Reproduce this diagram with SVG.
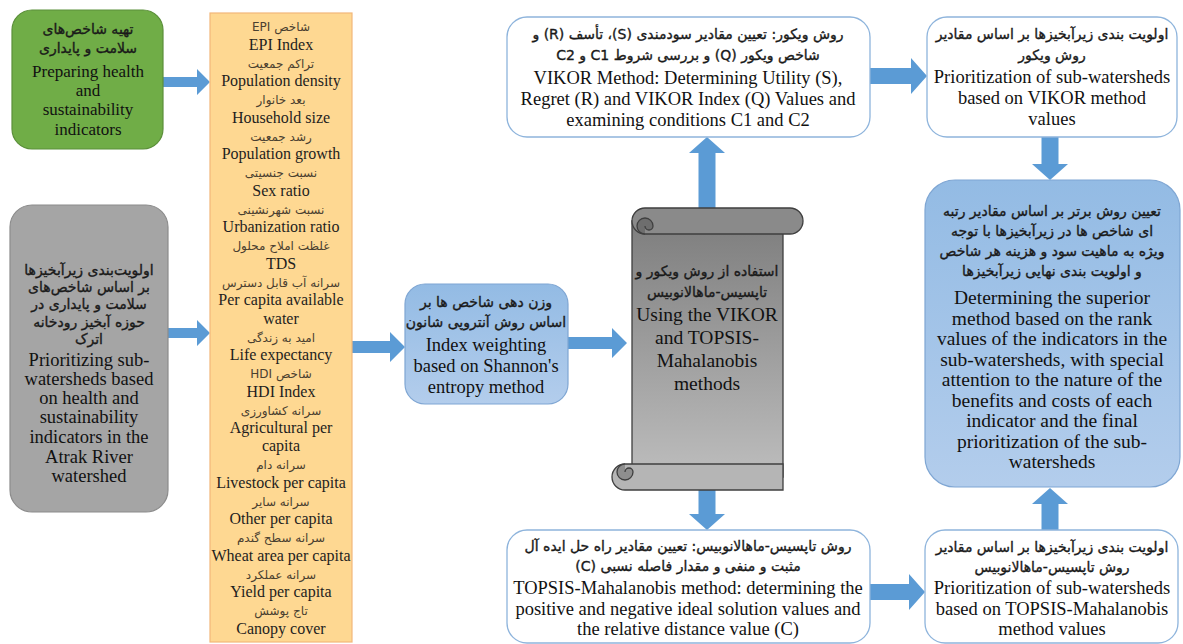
<svg xmlns="http://www.w3.org/2000/svg" width="1183" height="644" viewBox="0 0 1183 644">
<style>
.en{font-family:"Liberation Serif","Times New Roman",serif;fill:#111;text-anchor:middle}
.fa{font-family:"DejaVu Sans","Noto Sans",sans-serif;font-size:14px;fill:#1a1a1a;stroke:#1a1a1a;stroke-width:0.35;text-anchor:middle;direction:rtl}
.yen{font-family:"Liberation Serif",serif;font-size:16px;fill:#1e1e1e;text-anchor:middle}
.yfa{font-family:"DejaVu Sans",sans-serif;font-size:12px;fill:#4a4030;text-anchor:middle;direction:rtl}
.arr{fill:#5b9bd5}
.wbox{fill:#fff;stroke:#8eb4dc;stroke-width:1.3}
</style>
<defs>
<linearGradient id="gBlue" x1="0" y1="0" x2="0" y2="1"><stop offset="0" stop-color="#93bbe4"/><stop offset="1" stop-color="#b3cdec"/></linearGradient>
<linearGradient id="gScroll" x1="0" y1="0" x2="0" y2="1"><stop offset="0" stop-color="#7e7e7e"/><stop offset="1" stop-color="#bdbdbd"/></linearGradient>
</defs>

<g id="connectors">
<polygon class="arr" points="163,77 197,77 197,69 210,82 197,95 197,87 163,87"/>
<polygon class="arr" points="168,328 197,328 197,320 210,333 197,346 197,338 168,338"/>
<polygon class="arr" points="352,341 390,341 390,332 405,347 390,362 390,353 352,353"/>
<polygon class="arr" points="568,337 612,337 612,328 627,343 612,358 612,349 568,349"/>
<polygon class="arr" points="698.5,208 698.5,153 689,153 707,137 725,153 715.5,153 715.5,208"/>
<polygon class="arr" points="698.5,490 698.5,514 689,514 707,530 725,514 715.5,514 715.5,490"/>
<polygon class="arr" points="870,68 911,68 911,58 927,76 911,94 911,84 870,84"/>
<polygon class="arr" points="870,584 909,584 909,574 925,592 909,610 909,600 870,600"/>
<polygon class="arr" points="1041.5,137 1041.5,164 1032,164 1050,180 1068,164 1058.5,164 1058.5,137"/>
<polygon class="arr" points="1041.5,530 1041.5,504 1032,504 1050,488 1068,504 1058.5,504 1058.5,530"/>
</g>

<g id="n-green">
<rect x="12" y="10" width="151" height="139" rx="20" fill="#70ad47" stroke="#5b8f3a" stroke-width="1.2"/>
<text class="fa" x="88" y="34">تهیه شاخص‌های</text>
<text class="fa" x="88" y="53">سلامت و پایداری</text>
<text class="en" x="88" y="77" font-size="17">Preparing health</text>
<text class="en" x="88" y="96" font-size="17">and</text>
<text class="en" x="88" y="115" font-size="17">sustainability</text>
<text class="en" x="88" y="135" font-size="17">indicators</text>
</g>

<g id="n-gray">
<rect x="10" y="205" width="158" height="307" rx="22" fill="#a5a5a5" stroke="#8c8c8c" stroke-width="1.2"/>
<text class="fa" x="89" y="275">اولویت‌بندی زیرآبخیزها</text>
<text class="fa" x="89" y="292">بر اساس شاخص‌های</text>
<text class="fa" x="89" y="309">سلامت و پایداری در</text>
<text class="fa" x="89" y="327">حوزه آبخیز رودخانه</text>
<text class="fa" x="89" y="344">اترک</text>
<text class="en" x="89" y="366" font-size="18.5">Prioritizing  sub-</text>
<text class="en" x="89" y="385" font-size="18.5">watersheds based</text>
<text class="en" x="89" y="404" font-size="18.5">on health  and</text>
<text class="en" x="89" y="423" font-size="18.5">sustainability</text>
<text class="en" x="89" y="443" font-size="18.5">indicators in the</text>
<text class="en" x="89" y="463" font-size="18.5">Atrak River</text>
<text class="en" x="89" y="482" font-size="18.5">watershed</text>
</g>

<g id="n-indicators">
<rect x="210" y="13" width="142" height="629" fill="#fed892" stroke="#f2b77a" stroke-width="1.2"/>
<text class="yfa" x="281" y="31">شاخص EPI</text>
<text class="yen" x="281" y="50">EPI Index</text>
<text class="yfa" x="281" y="68">تراکم جمعیت</text>
<text class="yen" x="281" y="86">Population  density</text>
<text class="yfa" x="281" y="104">بعد خانوار</text>
<text class="yen" x="281" y="123">Household  size</text>
<text class="yfa" x="281" y="141">رشد جمعیت</text>
<text class="yen" x="281" y="159">Population  growth</text>
<text class="yfa" x="281" y="177">نسبت جنسیتی</text>
<text class="yen" x="281" y="196">Sex ratio</text>
<text class="yfa" x="281" y="214">نسبت شهرنشینی</text>
<text class="yen" x="281" y="232">Urbanization  ratio</text>
<text class="yfa" x="281" y="250">غلظت املاح محلول</text>
<text class="yen" x="281" y="269">TDS</text>
<text class="yfa" x="281" y="287">سرانه آب قابل دسترس</text>
<text class="yen" x="281" y="305">Per capita  available</text>
<text class="yen" x="281" y="324">water</text>
<text class="yfa" x="281" y="342">امید به زندگی</text>
<text class="yen" x="281" y="360">Life  expectancy</text>
<text class="yfa" x="281" y="378">شاخص HDI</text>
<text class="yen" x="281" y="397">HDI Index</text>
<text class="yfa" x="281" y="415">سرانه کشاورزی</text>
<text class="yen" x="281" y="433">Agricultural  per</text>
<text class="yen" x="281" y="451">capita</text>
<text class="yfa" x="281" y="469">سرانه دام</text>
<text class="yen" x="281" y="488">Livestock  per capita</text>
<text class="yfa" x="281" y="506">سرانه سایر</text>
<text class="yen" x="281" y="524">Other per capita</text>
<text class="yfa" x="281" y="542">سرانه سطح گندم</text>
<text class="yen" x="281" y="561">Wheat area per capita</text>
<text class="yfa" x="281" y="579">سرانه عملکرد</text>
<text class="yen" x="281" y="597">Yield  per capita</text>
<text class="yfa" x="281" y="615">تاج پوشش</text>
<text class="yen" x="281" y="634">Canopy  cover</text>
</g>

<g id="n-shannon">
<rect x="405" y="284" width="163" height="120" rx="20" fill="url(#gBlue)" stroke="#7fa6d3" stroke-width="1.2"/>
<text class="fa" x="486" y="307">وزن دهی شاخص ها بر</text>
<text class="fa" x="486" y="327">اساس روش آنتروپی شانون</text>
<text class="en" x="486" y="351" font-size="18.5">Index weighting</text>
<text class="en" x="486" y="372" font-size="18.5">based on Shannon's</text>
<text class="en" x="486" y="393" font-size="18.5">entropy method</text>
</g>

<g id="n-scroll">
<path d="M632,221 L632,477 L783,477 L783,221 Z" fill="url(#gScroll)" stroke="#3f3f3f" stroke-width="1.3"/>
<path d="M645,208 L790,208 A13,13 0 0 1 790,234 L645,234 A13,13 0 0 1 645,208 Z" fill="#8a8a8a" stroke="#3f3f3f" stroke-width="1.3"/>
<path d="M645,234 A8,8 0 1 1 653,226 A4,4 0 0 1 645,226" fill="#6e6e6e" stroke="#3f3f3f" stroke-width="1.3"/>
<path d="M625,464 L783,464 L783,490 L625,490 A13,13 0 0 1 625,464 Z" fill="#b5b5b5" stroke="#3f3f3f" stroke-width="1.3"/>
<path d="M625,464 A8,8 0 1 0 633,472 A4,4 0 0 0 625,472" fill="#8e8e8e" stroke="#3f3f3f" stroke-width="1.3"/>
<text class="fa" x="707" y="276">استفاده از روش ویکور و</text>
<text class="fa" x="707" y="297">تاپسیس-ماهالانوبیس</text>
<text class="en" x="707" y="321" font-size="19.5">Using the VIKOR</text>
<text class="en" x="707" y="344" font-size="19.5">and TOPSIS-</text>
<text class="en" x="707" y="367" font-size="19.5">Mahalanobis</text>
<text class="en" x="707" y="390" font-size="19.5">methods</text>
</g>

<g id="n-vikor">
<rect class="wbox" x="507" y="17" width="363" height="120" rx="20"/>
<text class="fa" x="688" y="39">روش ویکور: تعیین مقادیر سودمندی (S)، تأسف (R) و</text>
<text class="fa" x="688" y="60">شاخص ویکور (Q) و بررسی شروط C1 و C2</text>
<text class="en" x="688" y="84" font-size="18.5">VIKOR Method: Determining  Utility  (S),</text>
<text class="en" x="688" y="105" font-size="18.5">Regret (R) and VIKOR Index (Q) Values  and</text>
<text class="en" x="688" y="126" font-size="18.5">examining  conditions C1 and C2</text>
</g>

<g id="n-topsis">
<rect class="wbox" x="507" y="530" width="363" height="113" rx="20"/>
<text class="fa" x="688" y="551">روش تاپسیس-ماهالانوبیس: تعیین مقادیر راه حل ایده آل</text>
<text class="fa" x="688" y="571">مثبت و منفی و مقدار فاصله نسبی (C)</text>
<text class="en" x="688" y="594" font-size="18.5">TOPSIS-Mahalanobis method: determining  the</text>
<text class="en" x="688" y="615" font-size="18.5">positive and negative  ideal solution values and</text>
<text class="en" x="688" y="635" font-size="18.5">the relative  distance value  (C)</text>
</g>

<g id="n-rank-vikor">
<rect class="wbox" x="927" y="17" width="250" height="120" rx="20"/>
<text class="fa" x="1052" y="39">اولویت بندی زیرآبخیزها بر اساس مقادیر</text>
<text class="fa" x="1052" y="60">روش ویکور</text>
<text class="en" x="1052" y="83" font-size="18.5">Prioritization  of sub-watersheds</text>
<text class="en" x="1052" y="104" font-size="18.5">based on VIKOR method</text>
<text class="en" x="1052" y="125" font-size="18.5">values</text>
</g>

<g id="n-final">
<rect x="925" y="180" width="255" height="307" rx="30" fill="url(#gBlue)" stroke="#7fa6d3" stroke-width="1.2"/>
<text class="fa" x="1052" y="216">تعیین روش برتر بر اساس مقادیر رتبه</text>
<text class="fa" x="1052" y="236">ای شاخص ها در زیرآبخیزها با توجه</text>
<text class="fa" x="1052" y="256">ویژه به ماهیت سود و هزینه هر شاخص</text>
<text class="fa" x="1052" y="276">و اولویت بندی نهایی زیرآبخیزها</text>
<text class="en" x="1052" y="304" font-size="19.5">Determining  the superior</text>
<text class="en" x="1052" y="324.5" font-size="19.5">method based on the rank</text>
<text class="en" x="1052" y="345" font-size="19.5">values  of the indicators in  the</text>
<text class="en" x="1052" y="365.5" font-size="19.5">sub-watersheds, with  special</text>
<text class="en" x="1052" y="386" font-size="19.5">attention  to the nature of the</text>
<text class="en" x="1052" y="406.5" font-size="19.5">benefits  and costs of each</text>
<text class="en" x="1052" y="427" font-size="19.5">indicator and the final</text>
<text class="en" x="1052" y="447.5" font-size="19.5">prioritization  of the  sub-</text>
<text class="en" x="1052" y="468" font-size="19.5">watersheds</text>
</g>

<g id="n-rank-topsis">
<rect class="wbox" x="925" y="530" width="253" height="113" rx="20"/>
<text class="fa" x="1052" y="552">اولویت بندی زیرآبخیزها بر اساس مقادیر</text>
<text class="fa" x="1052" y="572">روش تاپسیس-ماهالانوبیس</text>
<text class="en" x="1052" y="594" font-size="18.5">Prioritization  of sub-watersheds</text>
<text class="en" x="1052" y="615" font-size="18.5">based on TOPSIS-Mahalanobis</text>
<text class="en" x="1052" y="635" font-size="18.5">method values</text>
</g>
</svg>
